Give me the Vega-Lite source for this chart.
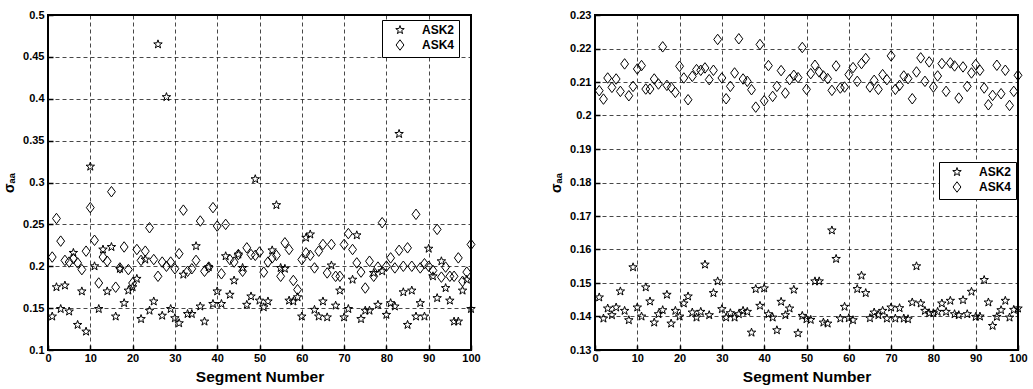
{
"$schema":"https://vega.github.io/schema/vega-lite/v6.json",
"background":"white",
"padding":{"left":1,"top":8,"right":0,"bottom":2},
"bounds":"flush",
"spacing":124,
"config":{
 "view":{"stroke":"black","strokeWidth":2},
 "axis":{"labelFont":"Liberation Sans","labelFontWeight":"bold","labelFontSize":11,"labelColor":"black","titleFont":"Liberation Sans","titleFontWeight":"bold","titleFontSize":15.5,"titleColor":"black","grid":true,"gridColor":"black","gridDash":[4,3],"gridWidth":0.8,"gridOpacity":0.9,"domain":false,"ticks":true,"tickSize":-5,"tickColor":"black","tickWidth":1.5,"labelPadding":9,"labelFlush":false},
 "axisX":{"labelPadding":7,"titlePadding":6},
 "legend":{"labelFont":"Liberation Sans","labelFontWeight":"bold","labelFontSize":12,"labelColor":"black"}
},
"datasets":{
"left":[
{"seg":1,"mod":"ASK2","sigma":0.140},{"seg":2,"mod":"ASK2","sigma":0.175},{"seg":3,"mod":"ASK2","sigma":0.149},{"seg":4,"mod":"ASK2","sigma":0.177},{"seg":5,"mod":"ASK2","sigma":0.146},{"seg":6,"mod":"ASK2","sigma":0.216},{"seg":7,"mod":"ASK2","sigma":0.130},{"seg":8,"mod":"ASK2","sigma":0.170},{"seg":9,"mod":"ASK2","sigma":0.122},{"seg":10,"mod":"ASK2","sigma":0.319},
{"seg":11,"mod":"ASK2","sigma":0.200},{"seg":12,"mod":"ASK2","sigma":0.149},{"seg":13,"mod":"ASK2","sigma":0.220},{"seg":14,"mod":"ASK2","sigma":0.170},{"seg":15,"mod":"ASK2","sigma":0.223},{"seg":16,"mod":"ASK2","sigma":0.140},{"seg":17,"mod":"ASK2","sigma":0.197},{"seg":18,"mod":"ASK2","sigma":0.156},{"seg":19,"mod":"ASK2","sigma":0.171},{"seg":20,"mod":"ASK2","sigma":0.175},
{"seg":21,"mod":"ASK2","sigma":0.185},{"seg":22,"mod":"ASK2","sigma":0.137},{"seg":23,"mod":"ASK2","sigma":0.208},{"seg":24,"mod":"ASK2","sigma":0.147},{"seg":25,"mod":"ASK2","sigma":0.158},{"seg":26,"mod":"ASK2","sigma":0.465},{"seg":27,"mod":"ASK2","sigma":0.141},{"seg":28,"mod":"ASK2","sigma":0.402},{"seg":29,"mod":"ASK2","sigma":0.149},{"seg":30,"mod":"ASK2","sigma":0.138},
{"seg":31,"mod":"ASK2","sigma":0.132},{"seg":32,"mod":"ASK2","sigma":0.190},{"seg":33,"mod":"ASK2","sigma":0.143},{"seg":34,"mod":"ASK2","sigma":0.143},{"seg":35,"mod":"ASK2","sigma":0.224},{"seg":36,"mod":"ASK2","sigma":0.152},{"seg":37,"mod":"ASK2","sigma":0.134},{"seg":38,"mod":"ASK2","sigma":0.199},{"seg":39,"mod":"ASK2","sigma":0.155},{"seg":40,"mod":"ASK2","sigma":0.170},
{"seg":41,"mod":"ASK2","sigma":0.155},{"seg":42,"mod":"ASK2","sigma":0.212},{"seg":43,"mod":"ASK2","sigma":0.166},{"seg":44,"mod":"ASK2","sigma":0.183},{"seg":45,"mod":"ASK2","sigma":0.214},{"seg":46,"mod":"ASK2","sigma":0.198},{"seg":47,"mod":"ASK2","sigma":0.154},{"seg":48,"mod":"ASK2","sigma":0.164},{"seg":49,"mod":"ASK2","sigma":0.304},{"seg":50,"mod":"ASK2","sigma":0.159},
{"seg":51,"mod":"ASK2","sigma":0.151},{"seg":52,"mod":"ASK2","sigma":0.158},{"seg":53,"mod":"ASK2","sigma":0.219},{"seg":54,"mod":"ASK2","sigma":0.273},{"seg":55,"mod":"ASK2","sigma":0.198},{"seg":56,"mod":"ASK2","sigma":0.197},{"seg":57,"mod":"ASK2","sigma":0.159},{"seg":58,"mod":"ASK2","sigma":0.158},{"seg":59,"mod":"ASK2","sigma":0.163},{"seg":60,"mod":"ASK2","sigma":0.140},
{"seg":61,"mod":"ASK2","sigma":0.234},{"seg":62,"mod":"ASK2","sigma":0.238},{"seg":63,"mod":"ASK2","sigma":0.148},{"seg":64,"mod":"ASK2","sigma":0.140},{"seg":65,"mod":"ASK2","sigma":0.158},{"seg":66,"mod":"ASK2","sigma":0.139},{"seg":67,"mod":"ASK2","sigma":0.201},{"seg":68,"mod":"ASK2","sigma":0.153},{"seg":69,"mod":"ASK2","sigma":0.171},{"seg":70,"mod":"ASK2","sigma":0.139},
{"seg":71,"mod":"ASK2","sigma":0.149},{"seg":72,"mod":"ASK2","sigma":0.184},{"seg":73,"mod":"ASK2","sigma":0.237},{"seg":74,"mod":"ASK2","sigma":0.137},{"seg":75,"mod":"ASK2","sigma":0.147},{"seg":76,"mod":"ASK2","sigma":0.147},{"seg":77,"mod":"ASK2","sigma":0.192},{"seg":78,"mod":"ASK2","sigma":0.154},{"seg":79,"mod":"ASK2","sigma":0.194},{"seg":80,"mod":"ASK2","sigma":0.142},
{"seg":81,"mod":"ASK2","sigma":0.156},{"seg":82,"mod":"ASK2","sigma":0.152},{"seg":83,"mod":"ASK2","sigma":0.358},{"seg":84,"mod":"ASK2","sigma":0.169},{"seg":85,"mod":"ASK2","sigma":0.130},{"seg":86,"mod":"ASK2","sigma":0.171},{"seg":87,"mod":"ASK2","sigma":0.140},{"seg":88,"mod":"ASK2","sigma":0.156},{"seg":89,"mod":"ASK2","sigma":0.140},{"seg":90,"mod":"ASK2","sigma":0.221},
{"seg":91,"mod":"ASK2","sigma":0.188},{"seg":92,"mod":"ASK2","sigma":0.162},{"seg":93,"mod":"ASK2","sigma":0.206},{"seg":94,"mod":"ASK2","sigma":0.174},{"seg":95,"mod":"ASK2","sigma":0.159},{"seg":96,"mod":"ASK2","sigma":0.134},{"seg":97,"mod":"ASK2","sigma":0.134},{"seg":98,"mod":"ASK2","sigma":0.171},{"seg":99,"mod":"ASK2","sigma":0.184},{"seg":100,"mod":"ASK2","sigma":0.149},
{"seg":1,"mod":"ASK4","sigma":0.211},{"seg":2,"mod":"ASK4","sigma":0.257},{"seg":3,"mod":"ASK4","sigma":0.230},{"seg":4,"mod":"ASK4","sigma":0.207},{"seg":5,"mod":"ASK4","sigma":0.205},{"seg":6,"mod":"ASK4","sigma":0.209},{"seg":7,"mod":"ASK4","sigma":0.204},{"seg":8,"mod":"ASK4","sigma":0.196},{"seg":9,"mod":"ASK4","sigma":0.218},{"seg":10,"mod":"ASK4","sigma":0.270},
{"seg":11,"mod":"ASK4","sigma":0.231},{"seg":12,"mod":"ASK4","sigma":0.180},{"seg":13,"mod":"ASK4","sigma":0.211},{"seg":14,"mod":"ASK4","sigma":0.206},{"seg":15,"mod":"ASK4","sigma":0.289},{"seg":16,"mod":"ASK4","sigma":0.175},{"seg":17,"mod":"ASK4","sigma":0.198},{"seg":18,"mod":"ASK4","sigma":0.223},{"seg":19,"mod":"ASK4","sigma":0.196},{"seg":20,"mod":"ASK4","sigma":0.180},
{"seg":21,"mod":"ASK4","sigma":0.220},{"seg":22,"mod":"ASK4","sigma":0.207},{"seg":23,"mod":"ASK4","sigma":0.218},{"seg":24,"mod":"ASK4","sigma":0.246},{"seg":25,"mod":"ASK4","sigma":0.208},{"seg":26,"mod":"ASK4","sigma":0.188},{"seg":27,"mod":"ASK4","sigma":0.205},{"seg":28,"mod":"ASK4","sigma":0.200},{"seg":29,"mod":"ASK4","sigma":0.205},{"seg":30,"mod":"ASK4","sigma":0.197},
{"seg":31,"mod":"ASK4","sigma":0.215},{"seg":32,"mod":"ASK4","sigma":0.267},{"seg":33,"mod":"ASK4","sigma":0.194},{"seg":34,"mod":"ASK4","sigma":0.197},{"seg":35,"mod":"ASK4","sigma":0.207},{"seg":36,"mod":"ASK4","sigma":0.254},{"seg":37,"mod":"ASK4","sigma":0.194},{"seg":38,"mod":"ASK4","sigma":0.199},{"seg":39,"mod":"ASK4","sigma":0.270},{"seg":40,"mod":"ASK4","sigma":0.248},
{"seg":41,"mod":"ASK4","sigma":0.191},{"seg":42,"mod":"ASK4","sigma":0.250},{"seg":43,"mod":"ASK4","sigma":0.208},{"seg":44,"mod":"ASK4","sigma":0.205},{"seg":45,"mod":"ASK4","sigma":0.214},{"seg":46,"mod":"ASK4","sigma":0.194},{"seg":47,"mod":"ASK4","sigma":0.222},{"seg":48,"mod":"ASK4","sigma":0.214},{"seg":49,"mod":"ASK4","sigma":0.213},{"seg":50,"mod":"ASK4","sigma":0.217},
{"seg":51,"mod":"ASK4","sigma":0.193},{"seg":52,"mod":"ASK4","sigma":0.205},{"seg":53,"mod":"ASK4","sigma":0.210},{"seg":54,"mod":"ASK4","sigma":0.213},{"seg":55,"mod":"ASK4","sigma":0.188},{"seg":56,"mod":"ASK4","sigma":0.228},{"seg":57,"mod":"ASK4","sigma":0.220},{"seg":58,"mod":"ASK4","sigma":0.183},{"seg":59,"mod":"ASK4","sigma":0.172},{"seg":60,"mod":"ASK4","sigma":0.208},
{"seg":61,"mod":"ASK4","sigma":0.216},{"seg":62,"mod":"ASK4","sigma":0.213},{"seg":63,"mod":"ASK4","sigma":0.198},{"seg":64,"mod":"ASK4","sigma":0.218},{"seg":65,"mod":"ASK4","sigma":0.226},{"seg":66,"mod":"ASK4","sigma":0.192},{"seg":67,"mod":"ASK4","sigma":0.226},{"seg":68,"mod":"ASK4","sigma":0.188},{"seg":69,"mod":"ASK4","sigma":0.188},{"seg":70,"mod":"ASK4","sigma":0.226},
{"seg":71,"mod":"ASK4","sigma":0.239},{"seg":72,"mod":"ASK4","sigma":0.220},{"seg":73,"mod":"ASK4","sigma":0.204},{"seg":74,"mod":"ASK4","sigma":0.193},{"seg":75,"mod":"ASK4","sigma":0.174},{"seg":76,"mod":"ASK4","sigma":0.206},{"seg":77,"mod":"ASK4","sigma":0.188},{"seg":78,"mod":"ASK4","sigma":0.199},{"seg":79,"mod":"ASK4","sigma":0.252},{"seg":80,"mod":"ASK4","sigma":0.200},
{"seg":81,"mod":"ASK4","sigma":0.210},{"seg":82,"mod":"ASK4","sigma":0.198},{"seg":83,"mod":"ASK4","sigma":0.219},{"seg":84,"mod":"ASK4","sigma":0.200},{"seg":85,"mod":"ASK4","sigma":0.222},{"seg":86,"mod":"ASK4","sigma":0.200},{"seg":87,"mod":"ASK4","sigma":0.262},{"seg":88,"mod":"ASK4","sigma":0.198},{"seg":89,"mod":"ASK4","sigma":0.203},{"seg":90,"mod":"ASK4","sigma":0.200},
{"seg":91,"mod":"ASK4","sigma":0.195},{"seg":92,"mod":"ASK4","sigma":0.244},{"seg":93,"mod":"ASK4","sigma":0.187},{"seg":94,"mod":"ASK4","sigma":0.199},{"seg":95,"mod":"ASK4","sigma":0.188},{"seg":96,"mod":"ASK4","sigma":0.188},{"seg":97,"mod":"ASK4","sigma":0.210},{"seg":98,"mod":"ASK4","sigma":0.182},{"seg":99,"mod":"ASK4","sigma":0.193},{"seg":100,"mod":"ASK4","sigma":0.226}
],
"right":[
{"seg":1,"mod":"ASK2","sigma":0.1457},{"seg":2,"mod":"ASK2","sigma":0.1394},{"seg":3,"mod":"ASK2","sigma":0.1424},{"seg":4,"mod":"ASK2","sigma":0.1404},{"seg":5,"mod":"ASK2","sigma":0.1427},{"seg":6,"mod":"ASK2","sigma":0.1475},{"seg":7,"mod":"ASK2","sigma":0.1417},{"seg":8,"mod":"ASK2","sigma":0.1389},{"seg":9,"mod":"ASK2","sigma":0.1547},{"seg":10,"mod":"ASK2","sigma":0.1427},
{"seg":11,"mod":"ASK2","sigma":0.1400},{"seg":12,"mod":"ASK2","sigma":0.1487},{"seg":13,"mod":"ASK2","sigma":0.1445},{"seg":14,"mod":"ASK2","sigma":0.1382},{"seg":15,"mod":"ASK2","sigma":0.1407},{"seg":16,"mod":"ASK2","sigma":0.1419},{"seg":17,"mod":"ASK2","sigma":0.1465},{"seg":18,"mod":"ASK2","sigma":0.1379},{"seg":19,"mod":"ASK2","sigma":0.1417},{"seg":20,"mod":"ASK2","sigma":0.1400},
{"seg":21,"mod":"ASK2","sigma":0.1439},{"seg":22,"mod":"ASK2","sigma":0.1460},{"seg":23,"mod":"ASK2","sigma":0.1412},{"seg":24,"mod":"ASK2","sigma":0.1397},{"seg":25,"mod":"ASK2","sigma":0.1414},{"seg":26,"mod":"ASK2","sigma":0.1555},{"seg":27,"mod":"ASK2","sigma":0.1404},{"seg":28,"mod":"ASK2","sigma":0.1470},{"seg":29,"mod":"ASK2","sigma":0.1505},{"seg":30,"mod":"ASK2","sigma":0.1422},
{"seg":31,"mod":"ASK2","sigma":0.1397},{"seg":32,"mod":"ASK2","sigma":0.1410},{"seg":33,"mod":"ASK2","sigma":0.1397},{"seg":34,"mod":"ASK2","sigma":0.1407},{"seg":35,"mod":"ASK2","sigma":0.1417},{"seg":36,"mod":"ASK2","sigma":0.1414},{"seg":37,"mod":"ASK2","sigma":0.1352},{"seg":38,"mod":"ASK2","sigma":0.1482},{"seg":39,"mod":"ASK2","sigma":0.1432},{"seg":40,"mod":"ASK2","sigma":0.1484},
{"seg":41,"mod":"ASK2","sigma":0.1407},{"seg":42,"mod":"ASK2","sigma":0.1397},{"seg":43,"mod":"ASK2","sigma":0.1359},{"seg":44,"mod":"ASK2","sigma":0.1444},{"seg":45,"mod":"ASK2","sigma":0.1404},{"seg":46,"mod":"ASK2","sigma":0.1424},{"seg":47,"mod":"ASK2","sigma":0.1480},{"seg":48,"mod":"ASK2","sigma":0.1350},{"seg":49,"mod":"ASK2","sigma":0.1402},{"seg":50,"mod":"ASK2","sigma":0.1392},
{"seg":51,"mod":"ASK2","sigma":0.1390},{"seg":52,"mod":"ASK2","sigma":0.1505},{"seg":53,"mod":"ASK2","sigma":0.1505},{"seg":54,"mod":"ASK2","sigma":0.1382},{"seg":55,"mod":"ASK2","sigma":0.1379},{"seg":56,"mod":"ASK2","sigma":0.1657},{"seg":57,"mod":"ASK2","sigma":0.1572},{"seg":58,"mod":"ASK2","sigma":0.1394},{"seg":59,"mod":"ASK2","sigma":0.1429},{"seg":60,"mod":"ASK2","sigma":0.1395},
{"seg":61,"mod":"ASK2","sigma":0.1389},{"seg":62,"mod":"ASK2","sigma":0.1482},{"seg":63,"mod":"ASK2","sigma":0.1522},{"seg":64,"mod":"ASK2","sigma":0.1470},{"seg":65,"mod":"ASK2","sigma":0.1395},{"seg":66,"mod":"ASK2","sigma":0.1412},{"seg":67,"mod":"ASK2","sigma":0.1404},{"seg":68,"mod":"ASK2","sigma":0.1417},{"seg":69,"mod":"ASK2","sigma":0.1394},{"seg":70,"mod":"ASK2","sigma":0.1427},
{"seg":71,"mod":"ASK2","sigma":0.1394},{"seg":72,"mod":"ASK2","sigma":0.1425},{"seg":73,"mod":"ASK2","sigma":0.1394},{"seg":74,"mod":"ASK2","sigma":0.1392},{"seg":75,"mod":"ASK2","sigma":0.1442},{"seg":76,"mod":"ASK2","sigma":0.1550},{"seg":77,"mod":"ASK2","sigma":0.1439},{"seg":78,"mod":"ASK2","sigma":0.1417},{"seg":79,"mod":"ASK2","sigma":0.1410},{"seg":80,"mod":"ASK2","sigma":0.1410},
{"seg":81,"mod":"ASK2","sigma":0.1414},{"seg":82,"mod":"ASK2","sigma":0.1439},{"seg":83,"mod":"ASK2","sigma":0.1414},{"seg":84,"mod":"ASK2","sigma":0.1447},{"seg":85,"mod":"ASK2","sigma":0.1407},{"seg":86,"mod":"ASK2","sigma":0.1404},{"seg":87,"mod":"ASK2","sigma":0.1449},{"seg":88,"mod":"ASK2","sigma":0.1407},{"seg":89,"mod":"ASK2","sigma":0.1474},{"seg":90,"mod":"ASK2","sigma":0.1399},
{"seg":91,"mod":"ASK2","sigma":0.1400},{"seg":92,"mod":"ASK2","sigma":0.1509},{"seg":93,"mod":"ASK2","sigma":0.1442},{"seg":94,"mod":"ASK2","sigma":0.1372},{"seg":95,"mod":"ASK2","sigma":0.1399},{"seg":96,"mod":"ASK2","sigma":0.1419},{"seg":97,"mod":"ASK2","sigma":0.1447},{"seg":98,"mod":"ASK2","sigma":0.1397},{"seg":99,"mod":"ASK2","sigma":0.1420},{"seg":100,"mod":"ASK2","sigma":0.1424},
{"seg":1,"mod":"ASK4","sigma":0.2074},{"seg":2,"mod":"ASK4","sigma":0.2049},{"seg":3,"mod":"ASK4","sigma":0.2112},{"seg":4,"mod":"ASK4","sigma":0.2084},{"seg":5,"mod":"ASK4","sigma":0.2109},{"seg":6,"mod":"ASK4","sigma":0.2072},{"seg":7,"mod":"ASK4","sigma":0.2154},{"seg":8,"mod":"ASK4","sigma":0.2059},{"seg":9,"mod":"ASK4","sigma":0.2087},{"seg":10,"mod":"ASK4","sigma":0.2139},
{"seg":11,"mod":"ASK4","sigma":0.2149},{"seg":12,"mod":"ASK4","sigma":0.2079},{"seg":13,"mod":"ASK4","sigma":0.2079},{"seg":14,"mod":"ASK4","sigma":0.2109},{"seg":15,"mod":"ASK4","sigma":0.2094},{"seg":16,"mod":"ASK4","sigma":0.2205},{"seg":17,"mod":"ASK4","sigma":0.2090},{"seg":18,"mod":"ASK4","sigma":0.2084},{"seg":19,"mod":"ASK4","sigma":0.2069},{"seg":20,"mod":"ASK4","sigma":0.2147},
{"seg":21,"mod":"ASK4","sigma":0.2112},{"seg":22,"mod":"ASK4","sigma":0.2047},{"seg":23,"mod":"ASK4","sigma":0.2117},{"seg":24,"mod":"ASK4","sigma":0.2137},{"seg":25,"mod":"ASK4","sigma":0.2135},{"seg":26,"mod":"ASK4","sigma":0.2142},{"seg":27,"mod":"ASK4","sigma":0.2107},{"seg":28,"mod":"ASK4","sigma":0.2135},{"seg":29,"mod":"ASK4","sigma":0.2227},{"seg":30,"mod":"ASK4","sigma":0.2112},
{"seg":31,"mod":"ASK4","sigma":0.2050},{"seg":32,"mod":"ASK4","sigma":0.2087},{"seg":33,"mod":"ASK4","sigma":0.2127},{"seg":34,"mod":"ASK4","sigma":0.2229},{"seg":35,"mod":"ASK4","sigma":0.2109},{"seg":36,"mod":"ASK4","sigma":0.2102},{"seg":37,"mod":"ASK4","sigma":0.2077},{"seg":38,"mod":"ASK4","sigma":0.2025},{"seg":39,"mod":"ASK4","sigma":0.2212},{"seg":40,"mod":"ASK4","sigma":0.2044},
{"seg":41,"mod":"ASK4","sigma":0.2149},{"seg":42,"mod":"ASK4","sigma":0.2057},{"seg":43,"mod":"ASK4","sigma":0.2087},{"seg":44,"mod":"ASK4","sigma":0.2134},{"seg":45,"mod":"ASK4","sigma":0.2067},{"seg":46,"mod":"ASK4","sigma":0.2107},{"seg":47,"mod":"ASK4","sigma":0.2120},{"seg":48,"mod":"ASK4","sigma":0.2113},{"seg":49,"mod":"ASK4","sigma":0.2203},{"seg":50,"mod":"ASK4","sigma":0.2078},
{"seg":51,"mod":"ASK4","sigma":0.2125},{"seg":52,"mod":"ASK4","sigma":0.2150},{"seg":53,"mod":"ASK4","sigma":0.2130},{"seg":54,"mod":"ASK4","sigma":0.2118},{"seg":55,"mod":"ASK4","sigma":0.2110},{"seg":56,"mod":"ASK4","sigma":0.2075},{"seg":57,"mod":"ASK4","sigma":0.2148},{"seg":58,"mod":"ASK4","sigma":0.2082},{"seg":59,"mod":"ASK4","sigma":0.2085},{"seg":60,"mod":"ASK4","sigma":0.2122},
{"seg":61,"mod":"ASK4","sigma":0.2143},{"seg":62,"mod":"ASK4","sigma":0.2102},{"seg":63,"mod":"ASK4","sigma":0.2155},{"seg":64,"mod":"ASK4","sigma":0.2170},{"seg":65,"mod":"ASK4","sigma":0.2085},{"seg":66,"mod":"ASK4","sigma":0.2105},{"seg":67,"mod":"ASK4","sigma":0.2078},{"seg":68,"mod":"ASK4","sigma":0.2122},{"seg":69,"mod":"ASK4","sigma":0.2107},{"seg":70,"mod":"ASK4","sigma":0.2178},
{"seg":71,"mod":"ASK4","sigma":0.2078},{"seg":72,"mod":"ASK4","sigma":0.2090},{"seg":73,"mod":"ASK4","sigma":0.2118},{"seg":74,"mod":"ASK4","sigma":0.2110},{"seg":75,"mod":"ASK4","sigma":0.2050},{"seg":76,"mod":"ASK4","sigma":0.2130},{"seg":77,"mod":"ASK4","sigma":0.2172},{"seg":78,"mod":"ASK4","sigma":0.2102},{"seg":79,"mod":"ASK4","sigma":0.2160},{"seg":80,"mod":"ASK4","sigma":0.2085},
{"seg":81,"mod":"ASK4","sigma":0.2118},{"seg":82,"mod":"ASK4","sigma":0.2155},{"seg":83,"mod":"ASK4","sigma":0.2072},{"seg":84,"mod":"ASK4","sigma":0.2157},{"seg":85,"mod":"ASK4","sigma":0.2148},{"seg":86,"mod":"ASK4","sigma":0.2052},{"seg":87,"mod":"ASK4","sigma":0.2145},{"seg":88,"mod":"ASK4","sigma":0.2087},{"seg":89,"mod":"ASK4","sigma":0.2127},{"seg":90,"mod":"ASK4","sigma":0.2152},
{"seg":91,"mod":"ASK4","sigma":0.2135},{"seg":92,"mod":"ASK4","sigma":0.2082},{"seg":93,"mod":"ASK4","sigma":0.2032},{"seg":94,"mod":"ASK4","sigma":0.2060},{"seg":95,"mod":"ASK4","sigma":0.2150},{"seg":96,"mod":"ASK4","sigma":0.2065},{"seg":97,"mod":"ASK4","sigma":0.2135},{"seg":98,"mod":"ASK4","sigma":0.2030},{"seg":99,"mod":"ASK4","sigma":0.2072},{"seg":100,"mod":"ASK4","sigma":0.2120}
]
},
"resolve":{"scale":{"shape":"independent"},"legend":{"shape":"independent"}},
"hconcat":[
{
 "width":423,"height":335,
 "data":{"name":"left"},
 "mark":{"type":"point","filled":false,"color":"black","opacity":1,"strokeWidth":1,"size":110},
 "encoding":{
  "x":{"field":"seg","type":"quantitative","scale":{"domain":[0,100],"nice":false},"axis":{"values":[0,10,20,30,40,50,60,70,80,90,100],"title":"Segment Number"}},
  "y":{"field":"sigma","type":"quantitative","scale":{"domain":[0.1,0.5],"nice":false,"zero":false},"axis":{"values":[0.1,0.15,0.2,0.25,0.3,0.35,0.4,0.45,0.5],"format":".2~f","title":"σₐₐ","titleFontSize":14,"titlePadding":6}},
  "shape":{"field":"mod","type":"nominal","scale":{"domain":["ASK2","ASK4"],"range":["M0,-0.85L0.2,-0.275L0.808,-0.263L0.323,0.105L0.5,0.688L0,0.34L-0.5,0.688L-0.323,0.105L-0.808,-0.263L-0.2,-0.275Z","M0,-1L0.75,0L0,1L-0.75,0Z"]},
   "legend":{"title":null,"orient":"none","legendX":334,"legendY":5,"strokeColor":"black","fillColor":"white","padding":4,"rowPadding":1,"symbolOffset":8,"labelOffset":16,"symbolSize":110,"symbolStrokeColor":"black","symbolFillColor":"white","symbolStrokeWidth":1,"symbolOpacity":1}}
 }
},
{
 "width":423,"height":335,
 "data":{"name":"right"},
 "mark":{"type":"point","filled":false,"color":"black","opacity":1,"strokeWidth":1,"size":110},
 "encoding":{
  "x":{"field":"seg","type":"quantitative","scale":{"domain":[0,100],"nice":false},"axis":{"values":[0,10,20,30,40,50,60,70,80,90,100],"title":"Segment Number"}},
  "y":{"field":"sigma","type":"quantitative","scale":{"domain":[0.13,0.23],"nice":false,"zero":false},"axis":{"values":[0.13,0.14,0.15,0.16,0.17,0.18,0.19,0.2,0.21,0.22,0.23],"format":".2~f","title":"σₐₐ","titleFontSize":14,"titlePadding":6}},
  "shape":{"field":"mod","type":"nominal","scale":{"domain":["ASK2","ASK4"],"range":["M0,-0.85L0.2,-0.275L0.808,-0.263L0.323,0.105L0.5,0.688L0,0.34L-0.5,0.688L-0.323,0.105L-0.808,-0.263L-0.2,-0.275Z","M0,-1L0.75,0L0,1L-0.75,0Z"]},
   "legend":{"title":null,"orient":"none","legendX":344,"legendY":147,"strokeColor":"black","fillColor":"white","padding":4,"rowPadding":1,"symbolOffset":8,"labelOffset":16,"symbolSize":110,"symbolStrokeColor":"black","symbolFillColor":"white","symbolStrokeWidth":1,"symbolOpacity":1}}
 }
}
]
}
